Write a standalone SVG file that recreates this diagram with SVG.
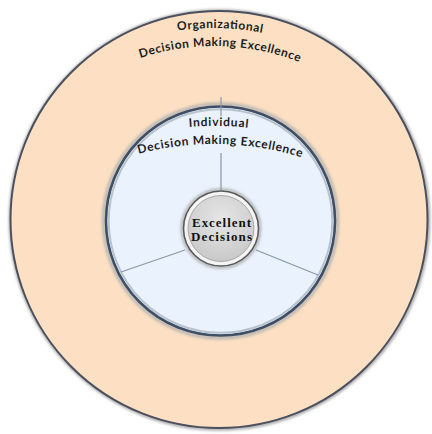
<svg xmlns="http://www.w3.org/2000/svg" width="432" height="434" viewBox="0 0 432 434">
  <defs>
    <style>
      .lbl { font-family: Lato, "Open Sans", "Liberation Sans", sans-serif; font-weight: bold; font-size: 12px; fill: #1c1c1c; }
      .ctr { font-family: "Liberation Serif", "DejaVu Serif", serif; font-weight: bold; font-size: 13px; fill: #111; }
      .spoke { stroke: #8796aa; stroke-width: 1.2; fill: none; }
    </style>
    <radialGradient id="gCenter" cx="50%" cy="35%" r="65%">
      <stop offset="0" stop-color="#e6e6e6"/>
      <stop offset="1" stop-color="#c9c9c9"/>
    </radialGradient>
    <filter id="soft" x="-10%" y="-10%" width="120%" height="120%">
      <feGaussianBlur stdDeviation="1.5"/>
    </filter>
    <path id="pOut1" d="M 88 61.8 A 252 252 0 0 1 340 61.8"/>
    <path id="pOut2" d="M 97 77.4 A 234 234 0 0 1 331 77.4"/>
    <path id="pIn1" d="M 82.1 155.2 A 312 312 0 0 1 345.9 155.2"/>
    <path id="pIn2" d="M 89.8 171.5 A 294 294 0 0 1 338.2 171.5"/>
  </defs>
  <rect width="432" height="434" fill="#ffffff"/>

  <g id="organizational">
    <circle cx="219.5" cy="220" r="209" fill="none" stroke="#9a9a9a" stroke-width="3" filter="url(#soft)"/>
    <circle cx="219" cy="219.5" r="208.5" fill="#fde0c3" stroke="#4b505e" stroke-width="2"/>
    <text class="lbl"><textPath href="#pOut1" startOffset="137.9" text-anchor="middle" textLength="85">Organizational</textPath></text>
    <text class="lbl"><textPath href="#pOut2" startOffset="128.5" text-anchor="middle" textLength="162">Decision Making Excellence</textPath></text>
  </g>

  <g id="individual">
    <circle cx="220.5" cy="221" r="117" fill="none" stroke="#b0b0b0" stroke-width="3" filter="url(#soft)"/>
    <circle cx="220.5" cy="221" r="114.5" fill="#eaf3fd" stroke="#3e4f66" stroke-width="2.6"/>
    <circle cx="220.5" cy="221" r="111.8" fill="none" stroke="#b9c3cd" stroke-width="2"/>
  </g>

  <g id="connectors">
    <line class="spoke" x1="221" y1="97" x2="221" y2="116"/>
    <line class="spoke" x1="221" y1="153" x2="221" y2="190"/>
    <line class="spoke" x1="121" y1="272" x2="185" y2="250"/>
    <line class="spoke" x1="256" y1="250" x2="318" y2="275"/>
  </g>

  <g id="individual-label">
    <text class="lbl"><textPath href="#pIn1" startOffset="140.6" text-anchor="middle" textLength="59">Individual</textPath></text>
    <text class="lbl"><textPath href="#pIn2" startOffset="134.3" text-anchor="middle" textLength="165">Decision Making Excellence</textPath></text>
  </g>

  <g id="excellent-decisions">
    <circle cx="221" cy="228.5" r="39" fill="none" stroke="#9a9a9a" stroke-width="2" filter="url(#soft)"/>
    <circle cx="221" cy="228.5" r="37.5" fill="#f4f4f4" stroke="#5a5a5a" stroke-width="1.6"/>
    <circle cx="221" cy="228.5" r="33" fill="url(#gCenter)" stroke="#a8a8a8" stroke-width="1"/>
    <text class="ctr" x="221.5" y="226.5" text-anchor="middle" textLength="59">Excellent</text>
    <text class="ctr" x="221.5" y="240.5" text-anchor="middle" textLength="61">Decisions</text>
  </g>
</svg>
